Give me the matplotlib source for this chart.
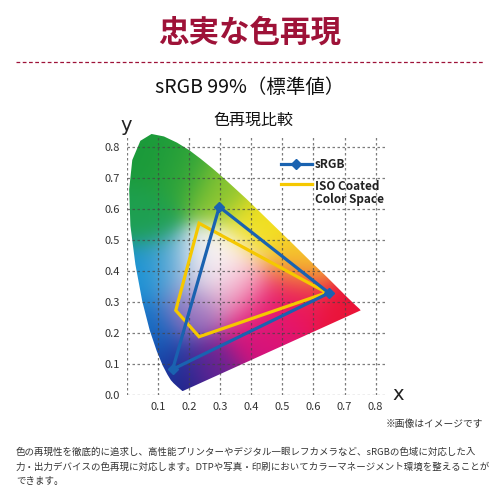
import matplotlib
matplotlib.use('Agg')
import matplotlib.pyplot as plt
import numpy as np
from matplotlib.patches import Polygon
from matplotlib.colors import to_rgb

plt.rcParams['font.family'] = ['Noto Sans CJK JP', 'DejaVu Sans']

# spectral locus (horseshoe outline) as drawn in the picture
locus_x = [0.180, 0.178, 0.171, 0.163, 0.150, 0.141, 0.130, 0.115, 0.096, 0.073,
           0.049, 0.027, 0.011, 0.007, 0.017, 0.043, 0.079, 0.119, 0.161, 0.200,
           0.237, 0.274, 0.311, 0.347, 0.384, 0.456, 0.526, 0.590, 0.643, 0.682,
           0.708, 0.736, 0.748, 0.752]
locus_y = [0.013, 0.013, 0.019, 0.026, 0.038, 0.048, 0.066, 0.095, 0.141, 0.209,
           0.303, 0.421, 0.546, 0.663, 0.758, 0.820, 0.842, 0.834, 0.814, 0.790,
           0.762, 0.732, 0.700, 0.667, 0.633, 0.563, 0.495, 0.432, 0.381, 0.342,
           0.316, 0.289, 0.278, 0.273]

# gamut triangles
srgb_x = [0.65, 0.297, 0.147]
srgb_y = [0.329, 0.607, 0.083]
iso_x = [0.232, 0.157, 0.232, 0.643]
iso_y = [0.554, 0.273, 0.188, 0.330]

x_ticks = [0.1, 0.2, 0.3, 0.4, 0.5, 0.6, 0.7, 0.8]
y_ticks = [0.0, 0.1, 0.2, 0.3, 0.4, 0.5, 0.6, 0.7, 0.8]

legend_labels = ['sRGB', 'ISO Coated\nColor Space']

# colour anchors for the gradient fill
anchor_x = [0.07, 0.18, 0.30, 0.05, 0.03, 0.06, 0.11, 0.17, 0.27, 0.42, 0.72, 0.55,
            0.42, 0.56, 0.30, 0.36, 0.21, 0.13, 0.46, 0.24]
anchor_y = [0.76, 0.72, 0.66, 0.58, 0.38, 0.22, 0.10, 0.02, 0.08, 0.18, 0.27, 0.31,
            0.55, 0.43, 0.43, 0.34, 0.28, 0.40, 0.26, 0.40]
anchor_c = ['#1a9a3a', '#2ea43a', '#8cc632', '#1ea050', '#1490d6', '#126ec4', '#1848aa',
            '#1a2088', '#6a2494', '#d4127c', '#ea1438', '#ea1458', '#f2e020', '#f6cc2a',
            '#ffffff', '#f4a0c0', '#9a6ebc', '#4aa4d4', '#e8166e', '#f2e8ee']

crimson = '#9e1238'
blue = '#1a62b0'
yellow = '#f5c800'

fig = plt.figure(figsize=(5, 5), dpi=100)
ax = fig.add_axes([0.254, 0.21, 0.522, 0.527])
ax.set_xlim(0, 0.84)
ax.set_ylim(0, 0.85)

# gradient fill clipped to the horseshoe
gx, gy = np.meshgrid(np.linspace(0, 0.8, 320), np.linspace(0, 0.86, 340))
ax_ = np.array(anchor_x)[:, None, None]
ay_ = np.array(anchor_y)[:, None, None]
d2 = (gx - ax_) ** 2 + (gy - ay_) ** 2
w = np.exp(-d2 / (2 * 0.065 ** 2)) + 1e-12
w = w / w.sum(axis=0)
cols = np.array([to_rgb(c) for c in anchor_c])
img = np.clip(np.einsum('kij,kc->ijc', w, cols), 0, 1)
im = ax.imshow(img, origin='lower', extent=(0, 0.8, 0, 0.86), aspect='auto',
               interpolation='bilinear', zorder=1)
horse = Polygon(np.column_stack([locus_x, locus_y]), closed=True,
                facecolor='none', edgecolor='none', transform=ax.transData)
ax.add_patch(horse)
im.set_clip_path(horse)

# dotted grid
ax.vlines([0.0] + x_ticks, 0, 0.84, colors='#444444', linestyles=(0, (2, 2)),
          linewidth=0.9, alpha=0.7, zorder=2)
ax.hlines(y_ticks, 0, 0.83, colors='#444444', linestyles=(0, (2, 2)),
          linewidth=0.9, alpha=0.7, zorder=2)

ax.fill(iso_x, iso_y, fill=False, edgecolor=yellow, linewidth=2.3, zorder=3,
        joinstyle='miter')
ax.fill(srgb_x, srgb_y, fill=False, edgecolor=blue, linewidth=2.3, zorder=4,
        joinstyle='miter')
ax.plot(srgb_x, srgb_y, linestyle='none', marker='D', markersize=5.5,
        color=blue, zorder=5)

for s in ax.spines.values():
    s.set_visible(False)
ax.set_xticks(x_ticks)
ax.set_yticks(y_ticks)
ax.set_xticklabels(['%.1f' % v for v in x_ticks])
ax.set_yticklabels(['%.1f' % v for v in y_ticks])
ax.tick_params(length=0, pad=5, labelsize=8, labelcolor='#333333')

ax.text(0.873, 0.0, 'x', fontsize=14, color='#222222', va='center', ha='center',
        family=['DejaVu Sans'])
ax.text(-0.003, 0.87, 'y', fontsize=14, color='#222222', va='center', ha='center',
        family=['DejaVu Sans'])

# legend
ax.plot([0.497, 0.594], [0.745, 0.745], color=blue, linewidth=2.3, zorder=5)
ax.plot([0.545], [0.745], marker='D', markersize=5, color=blue, zorder=5)
ax.text(0.604, 0.745, legend_labels[0], fontsize=8.5, fontweight='bold',
        color='#222222', va='center', ha='left')
ax.plot([0.497, 0.594], [0.68, 0.68], color=yellow, linewidth=2.3, zorder=5)
ax.text(0.604, 0.695, legend_labels[1], fontsize=8.5, fontweight='bold',
        color='#222222', va='top', ha='left', linespacing=1.0)

# headings
fig.text(0.5, 1 - 33 / 500, '忠実な色再現', fontsize=22, fontweight='bold',
         color=crimson, ha='center', va='center')
fig.add_artist(plt.Line2D([0.032, 0.968], [1 - 62 / 500] * 2, color=crimson,
                          linewidth=0.9, linestyle=(0, (3, 2))))
fig.text(0.5, 1 - 88 / 500, 'sRGB 99%（標準値）', fontsize=14, color='#111111',
         ha='center', va='center')
fig.text(0.506, 1 - 120 / 500, '色再現比較', fontsize=11.5, color='#111111',
         ha='center', va='center')

fig.text(0.966, 1 - 424 / 500, '※画像はイメージです', fontsize=7, color='#333333',
         ha='right', va='center')
para = ['色の再現性を徹底的に追求し、高性能プリンターやデジタル一眼レフカメラなど、sRGBの色域に対応した入',
        '力・出力デバイスの色再現に対応します。DTPや写真・印刷においてカラーマネージメント環境を整えることが',
        'できます。']
for i, line in enumerate(para):
    fig.text(0.032, 1 - (452 + i * 14.7) / 500, line, fontsize=6.8,
             color='#333333', ha='left', va='center')

fig.savefig('out.png', dpi=100, facecolor='white')
